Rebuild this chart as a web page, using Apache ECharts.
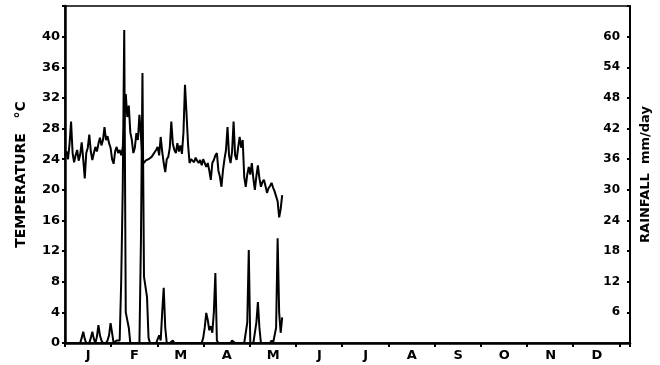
<!DOCTYPE html>
<html>
<head>
<meta charset="utf-8">
<script src="https://cdn.jsdelivr.net/npm/echarts@6/dist/echarts.min.js"></script>
<style>
html,body{margin:0;padding:0;background:#fff;}
#chart{width:660px;height:365px;}
</style>
</head>
<body>
<div id="chart"></div>
<script>
// Month labels (x axis)
var months = ['J','F','M','A','M','J','J','A','S','O','N','D'];
// Daily temperature (°C), day 0 = 1 January
var tempDays = [];
var temperature = [
24.5,25.0,24.0,26.0,28.9,24.8,23.6,24.5,25.2,23.8,
24.6,26.2,24.0,21.5,24.8,25.5,27.2,25.0,23.9,24.8,
25.6,25.0,26.0,26.8,25.8,26.5,28.2,26.5,27.0,26.1,
25.5,24.0,23.4,25.0,25.6,24.8,25.2,24.5,25.5,28.5,
32.5,29.5,31.0,27.5,26.5,24.8,25.5,27.4,26.5,29.8,
27.0,24.0,23.5,23.8,23.6,24.0,23.8,24.3,24.6,24.9,
25.2,25.6,24.5,26.9,25.0,23.5,22.3,24.0,24.3,25.5,
28.9,26.0,25.2,24.8,26.1,25.0,25.8,24.7,27.5,33.7,
30.0,26.0,23.5,24.0,23.8,23.6,24.2,23.8,23.5,23.9,
23.2,24.0,23.9,23.0,23.5,22.5,21.3,23.5,23.9,24.5,
24.8,22.5,21.7,20.4,22.5,24.0,25.2,28.2,24.5,23.5,
25.0,28.9,24.5,23.9,25.5,26.9,25.5,26.5,21.7,20.4,
22.0,23.0,22.0,23.5,21.5,20.0,21.8,23.2,21.5,20.4,
21.0,21.3,20.5,19.6,20.2,20.5,20.9,20.3,19.8,20.0,
18.5,16.4,17.5,19.3
];
// Daily rainfall (mm/day), same days
var rainfall = [
0,0,0,0,0,0,0,0,0,0,
0,1.0,2.2,0.8,0,0,0,1.0,2.2,0.8,
0,1.2,3.5,1.5,0.5,0,0,0,0.5,1.5,
3.9,2.0,0,0,0.5,0.8,0.5,12,30,61.3,
6,5.9,3,0,0,0,0,0,0,0,
20,52.9,13,11,9,1,0,0,0,0,
0,0,1.5,0.5,6,10.8,3,0,0,0,
0,0.5,0,0,0,0,0,0,0,0,
0,0,0,0,0,0,0,0,0,0,
0,1.0,3.0,5.9,4.5,2.5,3.3,2.0,6.0,13.7,
0.5,0,0,0,0,0,0,0,0,0,
0.5,0.8,0,0,0,0,0,0,0,0,
4,18.2,0,0,0,2,4,8,3,0,
0,0,0,0,0,0,0.5,0,0,3,
20.5,6,2,5
];
var tempTicks = [0,4,8,12,16,20,24,28,32,36,40];
var rainTicks = [6,12,18,24,30,36,42,48,54,60];

var tempData = temperature.map(function(v,i){return [i,v];});
var rainData = rainfall.map(function(v,i){return [i,v];});

var FONT = 'DejaVu Sans';
var chart = echarts.init(document.getElementById('chart'), null, {renderer:'canvas'});
chart.setOption({
  animation:false,
  backgroundColor:'#fff',
  grid:[
    {left:65, right:30, top:6, bottom:22, show:true, borderColor:'#000', borderWidth:1.5},
    {left:65, right:40, top:6, bottom:22, show:false}
  ],
  xAxis:[
    {type:'value', gridIndex:0, min:0, max:372, interval:365/12,
     axisLine:{show:true, lineStyle:{color:'#000', width:2.5}},
     axisTick:{show:true, inside:false, length:4, lineStyle:{color:'#000', width:2}},
     axisLabel:{show:false}, splitLine:{show:false}},
    {type:'category', gridIndex:1, data:months, boundaryGap:true,
     axisLine:{show:false}, axisTick:{show:false}, splitLine:{show:false},
     axisLabel:{show:true, color:'#000', fontFamily:FONT, fontWeight:'bold', fontSize:13, margin:6}}
  ],
  yAxis:[
    {type:'value', gridIndex:0, min:0, max:44, interval:4, position:'left',
     name:'TEMPERATURE   \u00B0C', nameLocation:'middle', nameGap:37, nameRotate:90,
     nameTextStyle:{color:'#000', fontFamily:FONT, fontWeight:'bold', fontSize:14},
     axisLine:{show:true, lineStyle:{color:'#000', width:2.5}},
     axisTick:{show:true, length:3, lineStyle:{color:'#000', width:2}},
     axisLabel:{color:'#000', fontFamily:FONT, fontWeight:'bold', fontSize:13, margin:5,
       formatter:function(v){return tempTicks.indexOf(v)>=0 ? String(v) : '';}},
     splitLine:{show:false}},
    {type:'value', gridIndex:0, min:0, max:66, interval:6, position:'right',
     name:'RAINFALL  mm/day', nameLocation:'middle', nameGap:7, nameRotate:90,
     nameTextStyle:{color:'#000', fontFamily:FONT, fontWeight:'bold', fontSize:13},
     axisLine:{show:true, lineStyle:{color:'#000', width:2}},
     axisTick:{show:true, inside:true, length:3, lineStyle:{color:'#000', width:2}},
     axisLabel:{inside:true, color:'#000', fontFamily:FONT, fontWeight:'bold', fontSize:12, margin:10,
       formatter:function(v){return rainTicks.indexOf(v)>=0 ? String(v) : '';}},
     splitLine:{show:false}},
    {type:'value', gridIndex:1, show:false}
  ],
  series:[
    {type:'line', name:'Temperature', xAxisIndex:0, yAxisIndex:0, data:tempData,
     showSymbol:false, symbol:'none', lineStyle:{color:'#000', width:2}},
    {type:'line', name:'Rainfall', xAxisIndex:0, yAxisIndex:1, data:rainData,
     showSymbol:false, symbol:'none', lineStyle:{color:'#000', width:2}}
  ]
});
</script>
</body>
</html>
